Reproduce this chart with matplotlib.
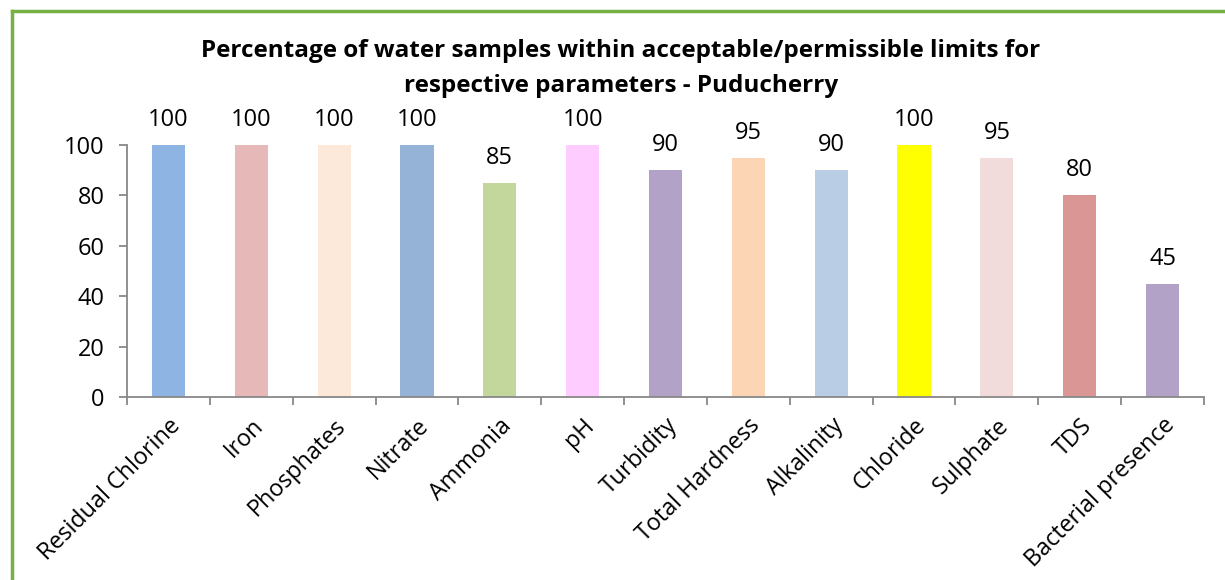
import matplotlib.pyplot as plt
import numpy as np
from matplotlib.lines import Line2D

# data
parameters = ["Residual Chlorine", "Iron", "Phosphates", "Nitrate", "Ammonia", "pH",
              "Turbidity", "Total Hardness", "Alkalinity", "Chloride", "Sulphate",
              "TDS", "Bacterial presence"]
percent_ok = [100, 100, 100, 100, 85, 100, 90, 95, 90, 100, 95, 80, 45]
bar_colors = ["#8EB4E3", "#E6B9B8", "#FDE9D9", "#95B3D7", "#C3D69B", "#FFCCFF",
              "#B3A2C7", "#FCD5B5", "#B9CDE5", "#FFFF00", "#F2DCDB", "#D99694", "#B3A2C7"]
y_ticks = [0, 20, 40, 60, 80, 100]

plt.rcParams['font.family'] = ['Open Sans', 'DejaVu Sans']

fig = plt.figure(figsize=(12.25, 5.8), dpi=100)
ax = fig.add_axes([127/1225, 1-397/580, (1204-127)/1225, (397-145)/580])

x = np.arange(len(parameters))
ax.bar(x, percent_ok, width=0.4, color=bar_colors)
for xi, v in zip(x, percent_ok):
    ax.annotate(str(v), (xi, v), xytext=(0, 18), textcoords="offset points",
                ha="center", va="center", fontsize=17, color="black")

ax.set_xlim(-0.5, len(parameters) - 0.5)
ax.set_ylim(0, 100)
ax.set_yticks(y_ticks)
ax.set_yticklabels([str(t) for t in y_ticks], fontsize=17)
ax.set_xticks(x)
ax.set_xticklabels(parameters, rotation=45, ha="right", rotation_mode="anchor", fontsize=16.8)
ax.set_xticks(np.arange(-0.5, len(parameters)), minor=True)
ax.tick_params(axis="x", which="major", length=0, pad=12)
ax.tick_params(axis="x", which="minor", length=6, color="#888888", width=1.3)
ax.tick_params(axis="y", length=6, color="#888888", width=1.3, pad=10)

for s in ["top", "right"]:
    ax.spines[s].set_visible(False)
for s in ["left", "bottom"]:
    ax.spines[s].set_color("#888888")
    ax.spines[s].set_linewidth(1.3)

fig.text(0.507, 1-51/580, "Percentage of water samples within acceptable/permissible limits for",
         ha="center", va="center", fontsize=17.5, fontweight="bold")
fig.text(0.507, 1-86/580, "respective parameters - Puducherry",
         ha="center", va="center", fontsize=17.5, fontweight="bold")

# green frame on left and top edges
green = "#77B146"
fig.add_artist(Line2D([12.5/1225, 12.5/1225], [0, 1-11/580], transform=fig.transFigure, color=green, lw=2.5))
fig.add_artist(Line2D([12.5/1225, 1], [1-11/580, 1-11/580], transform=fig.transFigure, color=green, lw=2.5))

plt.savefig("out.png", dpi=100)
